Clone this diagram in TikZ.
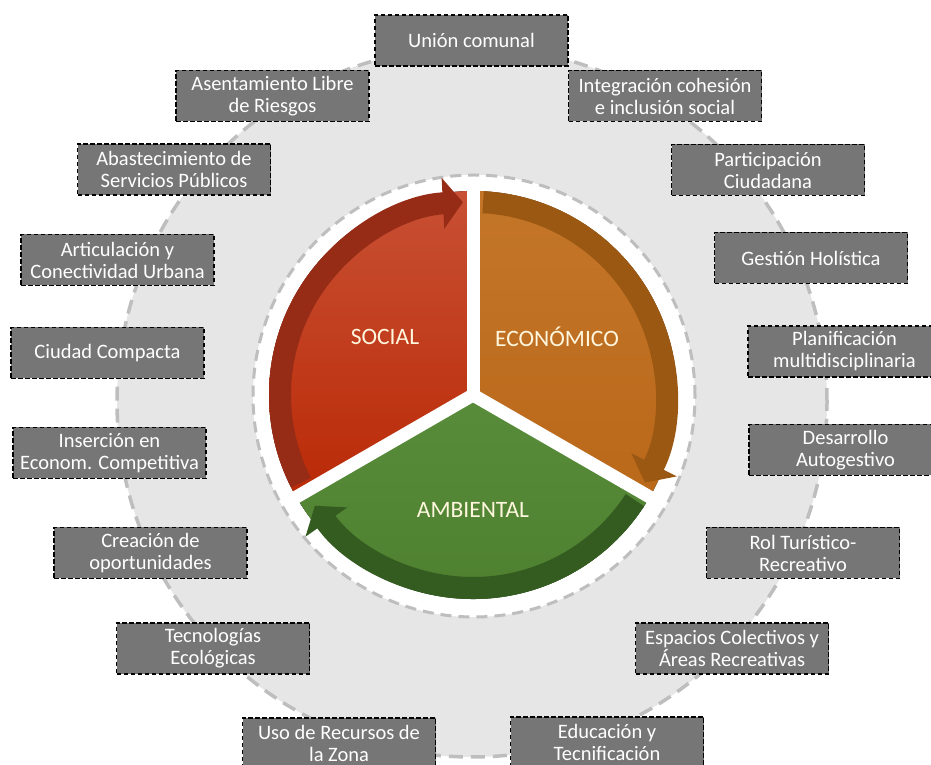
\documentclass[tikz,border=0pt]{standalone}
\usepackage{fontspec}
\setmainfont{Carlito}
\usepackage{xcolor}
\usepackage{tikz}
\usetikzlibrary{arrows.meta,positioning}

\definecolor{ringgray}{RGB}{230,230,230}
\definecolor{ringdash}{RGB}{190,190,190}
\definecolor{boxgray}{RGB}{118,118,118}
\definecolor{labelcream}{RGB}{255,246,222}
\definecolor{socialtop}{RGB}{200,80,52}
\definecolor{socialbot}{RGB}{186,42,6}
\definecolor{socialband}{RGB}{150,44,22}
\definecolor{ecotop}{RGB}{196,118,40}
\definecolor{ecobot}{RGB}{186,104,26}
\definecolor{ecoband}{RGB}{155,88,18}
\definecolor{ambtop}{RGB}{88,140,58}
\definecolor{ambbot}{RGB}{76,126,46}
\definecolor{ambband}{RGB}{52,92,32}

\begin{document}
\begin{tikzpicture}[x=1pt,y=1pt,
  ring/.style={circle,fill=ringgray,draw=ringdash,line width=3.5pt,dash pattern=on 14pt off 8pt},
  core/.style={circle,fill=white,draw=ringdash,line width=3pt,dash pattern=on 11pt off 7pt},
  factor/.style={rectangle,draw=black,line width=1.5pt,dash pattern=on 4.5pt off 2.5pt,fill=boxgray,
    text=white,align=center,minimum width=193pt,minimum height=51pt,inner sep=2pt,
    font=\fontsize{20.5}{22}\selectfont},
  dimension/.style={text=labelcream,font=\fontsize{23.5}{26}\selectfont},
  gap/.style={white,line width=13pt},
  band/.style={line width=22pt,-{Triangle[width=50pt,length=20pt]}}
]
\useasboundingbox (0,0) rectangle (931,765);

% background rings
\node[ring,minimum size=710pt] (outer) at (472,363) {};
\node[core,minimum size=442pt] (inner) at (474,369) {};

% pie
\coordinate (pie) at (473,370);
\fill[top color=socialtop,bottom color=socialbot] (pie) -- ++(90:204) arc (90:210:204) -- cycle;
\fill[top color=ecotop,bottom color=ecobot] (pie) -- ++(-30:204) arc (-30:90:204) -- cycle;
\fill[top color=ambtop,bottom color=ambbot] (pie) -- ++(210:204) arc (210:330:204) -- cycle;
\draw[gap] (pie) -- ++(90:216);
\draw[gap] (pie) -- ++(210:216);
\draw[gap] (pie) -- ++(330:216);
\draw[band,draw=socialband] (pie) ++(207:193) arc (207:93:193);
\draw[band,draw=ecoband] (pie) ++(87:193) arc (87:-27:193);
\draw[band,draw=ambband] (pie) ++(327:193) arc (327:215:193);

\node[dimension] (social) at (385,428) {SOCIAL};
\node[dimension] (economico) at (557,428) {ECONÓMICO};
\node[dimension] (ambiental) at (473,255) {AMBIENTAL};

% factors
\node[factor] (union) at (471.5,724.5) {Unión comunal};
\node[factor] (asentamiento) at (272.5,669) {Asentamiento Libre\\de Riesgos};
\node[factor] (integracion) at (665,669) {Integración cohesión\\e inclusión social};
\node[factor] (abastecimiento) at (174,595.5) {Abastecimiento de\\Servicios Públicos};
\node[factor] (participacion) at (768,595) {Participación\\Ciudadana};
\node[factor] (articulacion) at (117.5,505) {Articulación y\\Conectividad Urbana};
\node[factor] (gestion) at (811,507) {Gestión Holística};
\node[factor] (ciudad) at (107.5,412) {Ciudad Compacta};
\node[factor] (planificacion) at (844.5,413.5) {Planificación\\multidisciplinaria};
\node[factor] (insercion) at (109.5,312) {Inserción en\\Econom. Competitiva};
\node[factor] (desarrollo) at (845.5,315) {Desarrollo\\Autogestivo};
\node[factor] (creacion) at (150.5,212) {Creación de\\oportunidades};
\node[factor] (rol) at (803,212) {Rol Turístico-\\Recreativo};
\node[factor] (tecnologias) at (213,116.5) {Tecnologías\\Ecológicas};
\node[factor] (espacios) at (732,116.5) {Espacios Colectivos y\\Áreas Recreativas};
\node[factor] (uso) at (339,21.5) {Uso de Recursos de\\la Zona};
\node[factor] (educacion) at (607,22.5) {Educación y\\Tecnificación};
\end{tikzpicture}
\end{document}
